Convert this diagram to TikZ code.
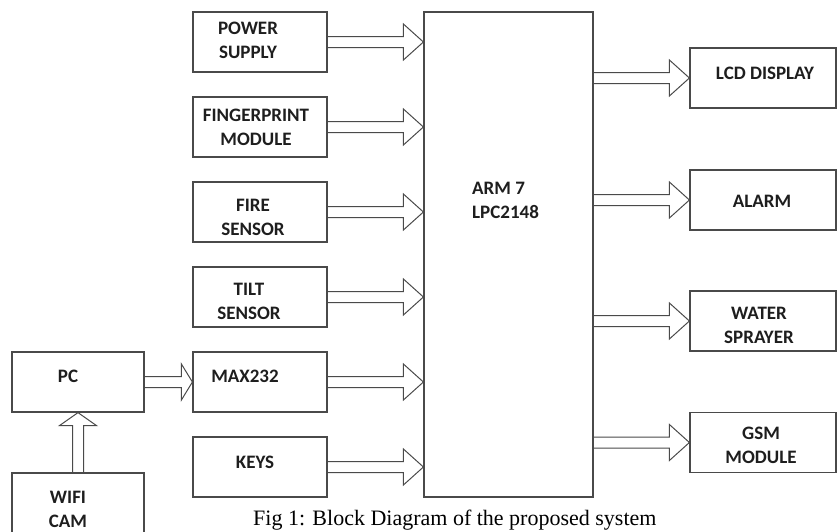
\documentclass[tikz,border=0pt]{standalone}
\usepackage{fontspec}
\setmainfont{Liberation Serif}
\newfontfamily\lblfont{Carlito}
\usetikzlibrary{calc}
\definecolor{linec}{HTML}{4A4A4A}
\definecolor{txtc}{HTML}{1E1E1E}
\tikzset{
  blk/.style={draw=linec, line width=1.2pt, fill=white, inner sep=0pt},
  lab/.style={font=\lblfont\bfseries\fontsize{19}{24}\selectfont, text=txtc, align=center, inner sep=0pt},
  harrow/.style={draw=linec, line width=1pt,
    to path={let \p1=(\tikztostart), \p2=(\tikztotarget) in
      (\x1,\y1+5.5pt) -- (\x2-#1,\y1+5.5pt) -- (\x2-#1,\y1+18pt) -- (\x2,\y1)
      -- (\x2-#1,\y1-18pt) -- (\x2-#1,\y1-5.5pt) -- (\x1,\y1-5.5pt)}},
  harrow/.default=20pt,
  varrow/.style={draw=linec, line width=1pt,
    to path={let \p1=(\tikztostart), \p2=(\tikztotarget) in
      (\x1+5.5pt,\y1) -- (\x1+5.5pt,\y2-#1) -- (\x1+18.5pt,\y2-#1) -- (\x1,\y2)
      -- (\x1-18.5pt,\y2-#1) -- (\x1-5.5pt,\y2-#1) -- (\x1-5.5pt,\y1)}},
  varrow/.default=13pt
}
\begin{document}
\begin{tikzpicture}[x=1pt,y=-1pt]
\useasboundingbox (0,0) rectangle (838,531);
\clip (0,0) rectangle (838,531);
% boxes
\node[blk, minimum width=134pt, minimum height=60pt] (ps)  at (260,42) {};
\node[blk, minimum width=134pt, minimum height=60pt] (fp)  at (260,127) {};
\node[blk, minimum width=134pt, minimum height=60pt] (fs)  at (260,212) {};
\node[blk, minimum width=134pt, minimum height=60pt] (ts)  at (260,297) {};
\node[blk, minimum width=134pt, minimum height=60pt] (max) at (260,382) {};
\node[blk, minimum width=134pt, minimum height=60pt] (keys) at (260,467) {};
\node[blk, minimum width=132pt, minimum height=60pt] (pc)  at (78,382) {};
\node[blk, minimum width=132pt, minimum height=80pt] (cam) at (78,513) {};
\node[blk, minimum width=169pt, minimum height=485pt] (arm) at (508.5,254.5) {};
\node[blk, minimum width=146pt, minimum height=60pt] (lcd) at (763,78) {};
\node[blk, minimum width=146pt, minimum height=60pt] (alarm) at (763,200) {};
\node[blk, minimum width=146pt, minimum height=60pt] (water) at (763,321) {};
\node[blk, minimum width=146pt, minimum height=60pt] (gsm) at (763,442.5) {};
% labels
\node[lab] (tps) at (248,40) {POWER\\SUPPLY};
\node[lab] (tfp) at (256,127.5) {FINGERPRINT\\MODULE};
\node[lab] (tfs) at (253,217) {FIRE\\SENSOR};
\node[lab] (tts) at (249,301) {TILT\\SENSOR};
\node[lab] (tmax) at (245,376) {MAX232};
\node[lab] (tkeys) at (255,462) {KEYS};
\node[lab] (tpc) at (68,376) {PC};
\node[lab] (tcam) at (68,509.5) {WIFI\\CAM};
\node[lab, align=left, anchor=west] (tarm) at (472,200) {ARM 7\\LPC2148};
\node[lab] (tlcd) at (765,73) {LCD DISPLAY};
\node[lab] (talarm) at (762,201) {ALARM};
\node[lab] (twater) at (759,325) {WATER\\SPRAYER};
\node[lab] (tgsm) at (761,445) {GSM\\MODULE};
% arrows into ARM
\draw[harrow] (ps.east) to (arm.west |- ps.east);
\draw[harrow] (fp.east) to (arm.west |- fp.east);
\draw[harrow] (fs.east) to (arm.west |- fs.east);
\draw[harrow] (ts.east) to (arm.west |- ts.east);
\draw[harrow] (max.east) to (arm.west |- max.east);
\draw[harrow] (keys.east) to (arm.west |- keys.east);
% arrows out of ARM
\draw[harrow] (arm.east |- lcd.west) to (lcd.west);
\draw[harrow] (arm.east |- alarm.west) to (alarm.west);
\draw[harrow] (arm.east |- water.west) to (water.west);
\draw[harrow] (arm.east |- gsm.west) to (gsm.west);
% PC and camera
\draw[harrow=11pt] (pc.east) to (max.west);
\draw[varrow] (cam.north) to (pc.south);
% caption
\node[anchor=base west, inner sep=0pt, font=\fontsize{22}{24}\selectfont] (cap) at (253,525) {Fig 1: Block Diagram of the proposed system};
\end{tikzpicture}
\end{document}
